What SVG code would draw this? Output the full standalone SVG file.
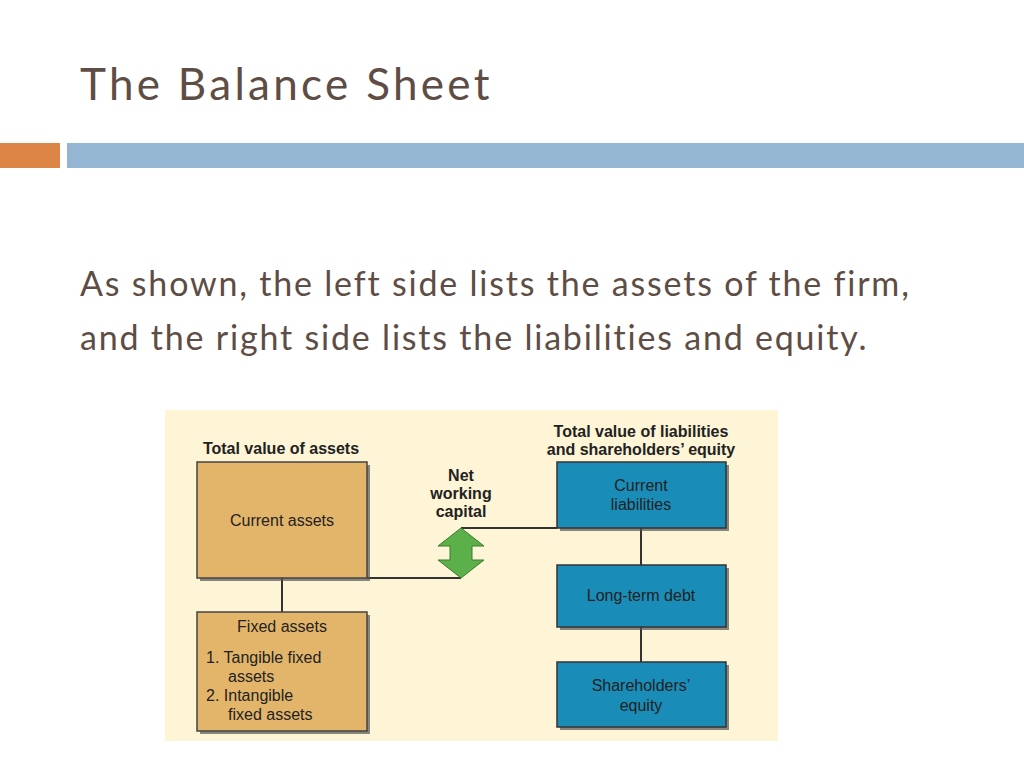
<svg xmlns="http://www.w3.org/2000/svg" width="1024" height="768" viewBox="0 0 1024 768">
<style>
.t{font-family:"Lato","Liberation Sans",sans-serif;fill:#5e4d44}
.d{font-family:"Liberation Sans",Arial,sans-serif;fill:#222;text-anchor:middle}
.s{text-anchor:start}
.b{font-weight:bold}
.tan{fill:#e2b56a;stroke:#444;stroke-width:1.5}
.blu{fill:#1a8cb8;stroke:#333;stroke-width:1.5}
.sh{fill:#555;opacity:.7}
.ln{stroke:#333;stroke-width:2;fill:none}
</style>
<rect width="1024" height="768" fill="#fff"/>
<text class="t" x="80" y="100" font-size="44" letter-spacing="3.3">The Balance Sheet</text>
<rect x="0" y="143" width="60" height="25" fill="#dd8547"/>
<rect x="67" y="143" width="957" height="25" fill="#94b6d2"/>
<text class="t" x="80" y="296" font-size="34" letter-spacing="1.8">As shown, the left side lists the assets of the firm,</text>
<text class="t" x="80" y="350" font-size="34" letter-spacing="1.8">and the right side lists the liabilities and equity.</text>
<rect x="165" y="410" width="613" height="331" fill="#fdf5d6"/>
<text class="d b" x="281" y="454" font-size="16">Total value of assets</text>
<text class="d b" x="641" y="437" font-size="16">Total value of liabilities</text>
<text class="d b" x="641" y="455" font-size="16">and shareholders’ equity</text>
<text class="d b" x="461" y="481" font-size="16">Net</text>
<text class="d b" x="461" y="499" font-size="16">working</text>
<text class="d b" x="461" y="517" font-size="16">capital</text>
<g id="connectors">
<polyline class="ln" points="367,578 461,578"/>
<polyline class="ln" points="461,528 557,528"/>
<line class="ln" x1="282" y1="578" x2="282" y2="612"/>
<line class="ln" x1="641" y1="528" x2="641" y2="565"/>
<line class="ln" x1="641" y1="627" x2="641" y2="662"/>
</g>
<g id="nwc-arrow"><polygon points="461,528 484,546 472,546 472,560 484,560 461,578 438,560 450,560 450,546 438,546" fill="#5cb04a" stroke="#3a7a30" stroke-width="1"/></g>
<g id="current-assets"><rect class="sh" x="200" y="465" width="170" height="116"/><rect class="tan" x="197" y="462" width="170" height="116"/><text class="d" x="282" y="526" font-size="16">Current assets</text></g>
<g id="fixed-assets"><rect class="sh" x="200" y="615" width="170" height="119"/><rect class="tan" x="197" y="612" width="170" height="119"/>
<text class="d" x="282" y="632" font-size="16">Fixed assets</text>
<text class="d s" x="206" y="663" font-size="16">1. Tangible fixed</text>
<text class="d s" x="228" y="682" font-size="16">assets</text>
<text class="d s" x="206" y="701" font-size="16">2. Intangible</text>
<text class="d s" x="228" y="720" font-size="16">fixed assets</text></g>
<g id="current-liabilities"><rect class="sh" x="560" y="465" width="169" height="66"/><rect class="blu" x="557" y="462" width="169" height="66"/><text class="d" x="641" y="491" font-size="16">Current</text><text class="d" x="641" y="510" font-size="16">liabilities</text></g>
<g id="long-term-debt"><rect class="sh" x="560" y="568" width="169" height="62"/><rect class="blu" x="557" y="565" width="169" height="62"/><text class="d" x="641" y="601" font-size="16">Long-term debt</text></g>
<g id="shareholders-equity"><rect class="sh" x="560" y="665" width="169" height="65"/><rect class="blu" x="557" y="662" width="169" height="65"/><text class="d" x="641" y="691" font-size="16">Shareholders’</text><text class="d" x="641" y="711" font-size="16">equity</text></g>
</svg>
